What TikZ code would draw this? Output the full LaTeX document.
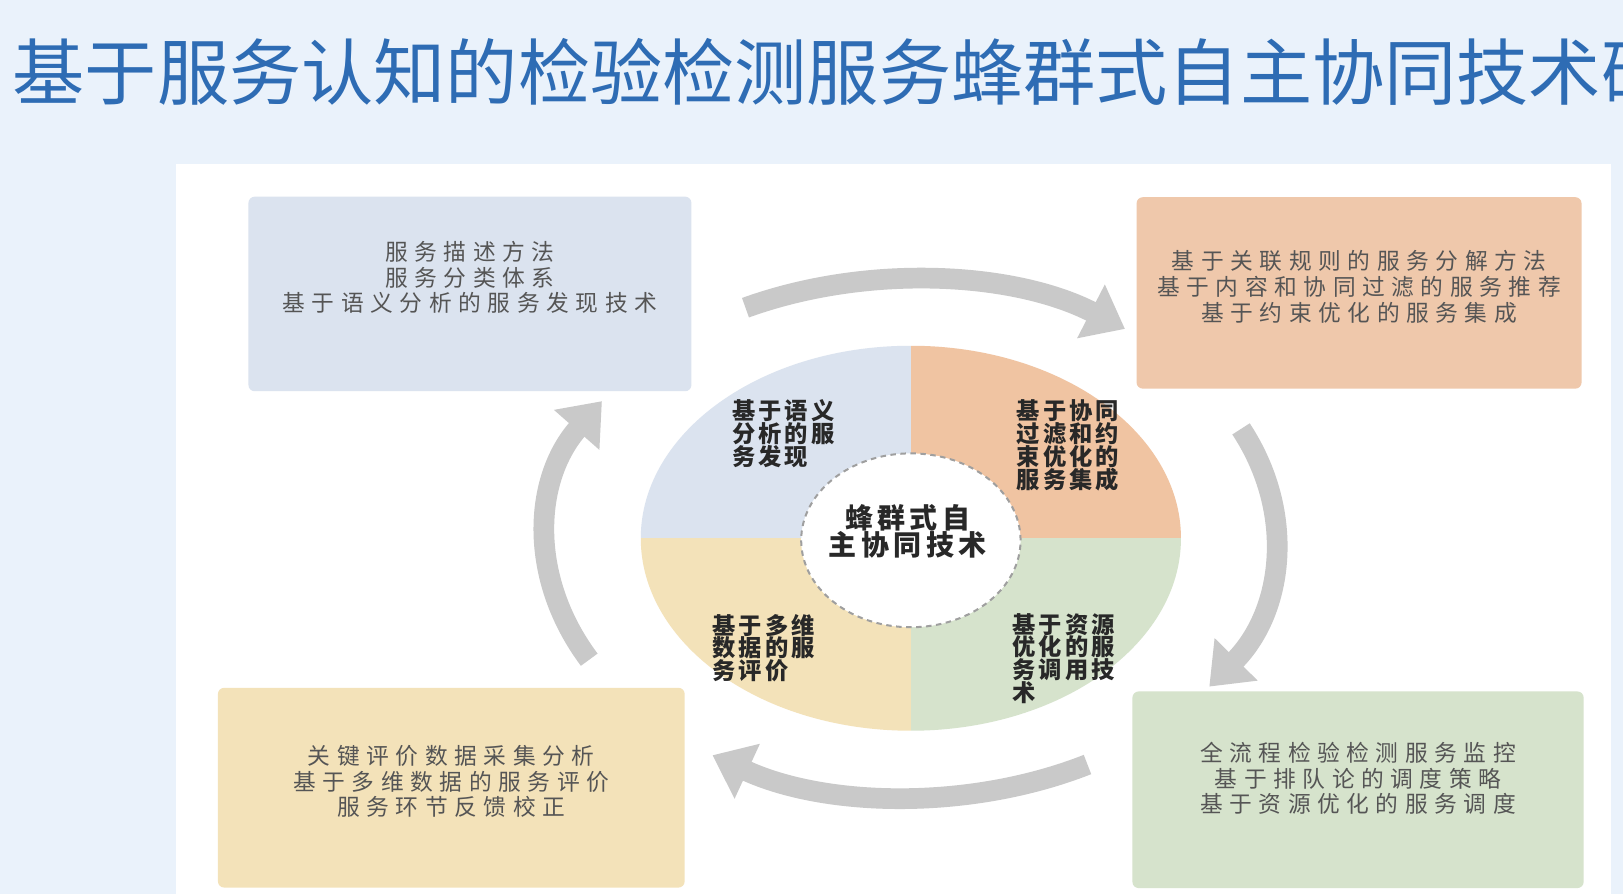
\documentclass[tikz,border=0pt]{standalone}
\usepackage{fontspec}
\usetikzlibrary{shapes.geometric,arrows.meta}
\newfontfamily\cjk{Noto Sans CJK SC}
\newfontfamily\cjkwide[LetterSpace=29]{Noto Sans CJK SC}
\newfontfamily\cjkquad[LetterSpace=13]{Noto Sans CJK SC}
\newfontfamily\cjkhub[LetterSpace=16]{Noto Sans CJK SC}

\definecolor{pagebg}{RGB}{234,242,251}
\definecolor{titleblue}{RGB}{46,108,180}
\definecolor{boxblue}{RGB}{219,227,239}
\definecolor{boxpeach}{RGB}{239,200,171}
\definecolor{boxsand}{RGB}{243,226,185}
\definecolor{boxsage}{RGB}{214,227,204}
\definecolor{arrowgray}{RGB}{201,201,201}
\definecolor{boxtext}{RGB}{85,85,85}
\definecolor{quadtext}{RGB}{40,40,40}

\tikzstyle{topic} = [rounded corners=0.12cm, inner sep=0pt]
\tikzstyle{topictext} = [inner sep=0pt, align=center, text=boxtext, font=\cjkwide\fontsize{12.5}{14.2}\selectfont]
\tikzstyle{quadlabel} = [anchor=north west, inner sep=0pt, align=left, text=quadtext, font=\cjkquad\bfseries\fontsize{12.8}{12.5}\selectfont]
\tikzstyle{hub} = [ellipse, draw=gray!75, fill=white, dash pattern=on 3pt off 2.5pt, line width=1.1pt, minimum width=4.24cm, minimum height=3.36cm, inner sep=0pt]
\tikzstyle{hubtext} = [inner sep=0pt, align=center, text=quadtext, font=\cjkhub\bfseries\fontsize{15.4}{14.8}\selectfont]
\tikzstyle{turn} = [draw=arrowgray, line width=0.4cm, -{Triangle[width=1.12cm,length=0.74cm]}]

\begin{document}
\begin{tikzpicture}[x=0.02cm, y=0.02cm]
\useasboundingbox (0,0) rectangle (1568,-864);
\clip (0,0) rectangle (1568,-864);
\fill[pagebg] (0,0) rectangle (1568,-864);
\fill[white] (170,-158) rectangle (1556,-864);

\node[anchor=west, inner sep=0pt, text=titleblue, font=\cjk\fontsize{39.7}{40}\selectfont] (title) at (12,-70) {基于服务认知的检验检测服务蜂群式自主协同技术研};

% outer boxes
\node[topic, fill=boxblue, minimum width=8.56cm, minimum height=3.76cm] (discovery) at (454,-284) {};
\node[topic, fill=boxpeach, minimum width=8.6cm, minimum height=3.7cm] (integration) at (1313,-283) {};
\node[topic, fill=boxsand, minimum width=9.02cm, minimum height=3.86cm] (evaluation) at (436,-761) {};
\node[topic, fill=boxsage, minimum width=8.72cm, minimum height=3.8cm] (scheduling) at (1312,-763) {};

\node[topictext] (discovery-text) at ([yshift=0.32cm]discovery.center) {服务描述方法\\服务分类体系\\基于语义分析的服务发现技术};
\node[topictext] (integration-text) at ([yshift=0.12cm]integration.center) {基于关联规则的服务分解方法\\基于内容和协同过滤的服务推荐\\基于约束优化的服务集成};
\node[topictext] (evaluation-text) at ([yshift=0.12cm]evaluation.center) {关键评价数据采集分析\\基于多维数据的服务评价\\服务环节反馈校正};
\node[topictext] (scheduling-text) at ([yshift=0.22cm]scheduling.center) {全流程检验检测服务监控\\基于排队论的调度策略\\基于资源优化的服务调度};

% cycle arrows
\coordinate (hub-c) at (880,-520);
\draw[turn] (hub-c) ++(117:7.04cm and 5cm) arc[start angle=117, end angle=54, x radius=7.04cm, y radius=5cm];
\draw[turn] (hub-c) ++(25:7.04cm and 5cm) arc[start angle=25, end angle=-35, x radius=7.04cm, y radius=5cm];
\draw[turn] (hub-c) ++(-61:7.04cm and 5cm) arc[start angle=-61, end angle=-123, x radius=7.04cm, y radius=5cm];
\draw[turn] (hub-c) ++(208:7.04cm and 5cm) arc[start angle=208, end angle=148, x radius=7.04cm, y radius=5cm];

% quadrant disc
\begin{scope}
\clip (hub-c) ellipse [x radius=5.22cm, y radius=3.72cm];
\fill[boxblue] (hub-c) rectangle ++(-300,200);
\fill[boxpeach!95!orange] (hub-c) rectangle ++(300,200);
\fill[boxsand] (hub-c) rectangle ++(-300,-200);
\fill[boxsage] (hub-c) rectangle ++(300,-200);
\end{scope}

\node[quadlabel] (q-discovery) at (707,-386) {基于语义\\分析的服\\务发现};
\node[quadlabel] (q-integration) at (982,-386) {基于协同\\过滤和约\\束优化的\\服务集成};
\node[quadlabel] (q-evaluation) at (688,-593) {基于多维\\数据的服\\务评价};
\node[quadlabel] (q-scheduling) at (978,-592) {基于资源\\优化的服\\务调用技\\术};

\node[hub] (hub) at (880,-522) {};
\node[hubtext] (hub-text) at ([xshift=-0.06cm, yshift=0.18cm]hub.center) {蜂群式自\\主协同技术};
\end{tikzpicture}
\end{document}
